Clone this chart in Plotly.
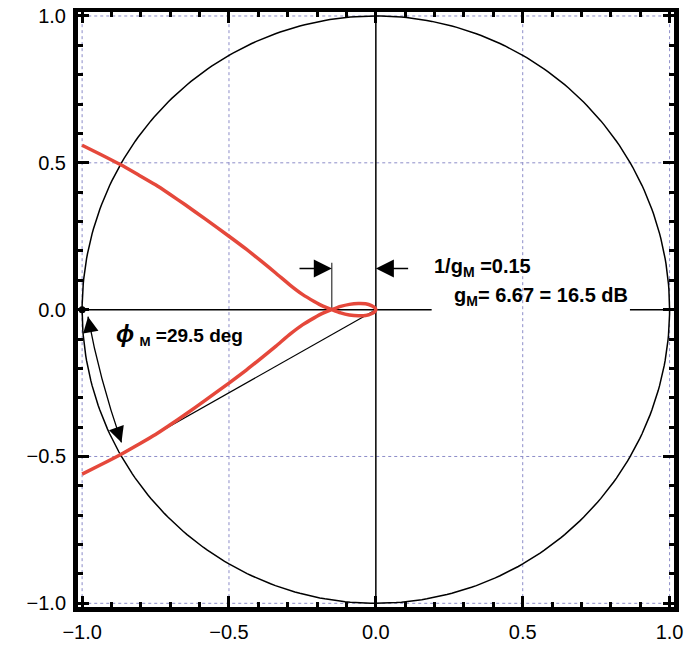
import math
import plotly.graph_objects as go

# Nyquist locus (one branch, the other is its complex conjugate)
re_branch = [-1.0, -0.94, -0.87, -0.81, -0.75, -0.70, -0.65, -0.58, -0.50, -0.44, -0.39,
             -0.34, -0.29, -0.25, -0.21, -0.18, -0.15, -0.12, -0.09, -0.06, -0.035,
             -0.015, -0.004, 0.0]
im_branch = [0.560, 0.530, 0.494, 0.460, 0.425, 0.392, 0.358, 0.308, 0.250, 0.205, 0.165,
             0.124, 0.082, 0.052, 0.028, 0.012, 0.0, -0.011, -0.018, -0.021, -0.020,
             -0.014, -0.007, 0.0]

inv_gain_margin = 0.15
phase_margin_deg = 29.5
tick_vals = [-1.0, -0.5, 0.0, 0.5, 1.0]
tick_text = ["\u22121.0", "\u22120.5", "0.0", "0.5", "1.0"]

RED = "#e5483b"
GRID = "#8c8cc8"
FONT = "Liberation Sans"

x_locus = re_branch + re_branch[::-1][1:]
y_locus = im_branch + [-v for v in im_branch[::-1]][1:]

theta = [2 * math.pi * i / 360 for i in range(361)]
circ_x = [math.cos(t) for t in theta]
circ_y = [math.sin(t) for t in theta]

pm = math.radians(180 + phase_margin_deg)
pm_x, pm_y = math.cos(pm), math.sin(pm)

fig = go.Figure()

# grid (dotted) at +-0.5 and +-1
for v in [-1.0, -0.5, 0.5, 1.0]:
    fig.add_shape(type="line", x0=v, x1=v, y0=-1.02, y1=1.02, xref="x", yref="y",
                  line=dict(color=GRID, width=1, dash="dot"), layer="below")
    fig.add_shape(type="line", y0=v, y1=v, x0=-1.02, x1=1.02, xref="x", yref="y",
                  line=dict(color=GRID, width=1, dash="dot"), layer="below")

# unit circle
fig.add_trace(go.Scatter(x=circ_x, y=circ_y, mode="lines",
                         line=dict(color="black", width=1.5), hoverinfo="skip"))
# axes lines
fig.add_trace(go.Scatter(x=[0, 0], y=[-1, 1], mode="lines",
                         line=dict(color="black", width=1.5), hoverinfo="skip"))
fig.add_trace(go.Scatter(x=[-1, 0.19], y=[0, 0], mode="lines",
                         line=dict(color="black", width=1.5), hoverinfo="skip"))
fig.add_trace(go.Scatter(x=[0.865, 1.0], y=[0, 0], mode="lines",
                         line=dict(color="black", width=1.5), hoverinfo="skip"))
# phase margin line
fig.add_trace(go.Scatter(x=[0, pm_x], y=[0, pm_y], mode="lines",
                         line=dict(color="black", width=1.2), hoverinfo="skip"))
# gain margin marker line
fig.add_trace(go.Scatter(x=[-inv_gain_margin, -inv_gain_margin], y=[0, 0.16], mode="lines",
                         line=dict(color="#333333", width=1.2), hoverinfo="skip"))
# locus
fig.add_trace(go.Scatter(x=x_locus, y=y_locus, mode="lines",
                         line=dict(color=RED, width=3.5, shape="spline", smoothing=0.6),
                         hoverinfo="skip"))
# critical point
fig.add_trace(go.Scatter(x=[-1], y=[0], mode="markers",
                         marker=dict(color="black", size=7), hoverinfo="skip"))

# phase-margin curved double arrow
p1 = (-0.98, -0.024)
p2 = (-0.866, -0.452)
ctrl = (-0.942, -0.232)
fig.add_shape(type="path",
              path=f"M {p1[0]},{p1[1]} Q {ctrl[0]},{ctrl[1]} {p2[0]},{p2[1]}",
              xref="x", yref="y", line=dict(color="black", width=1.3))


def head(tip, frm):
    dx, dy = tip[0] - frm[0], tip[1] - frm[1]
    n = math.hypot(dx, dy)
    tail = (tip[0] - 0.05 * dx / n, tip[1] - 0.05 * dy / n)
    fig.add_annotation(x=tip[0], y=tip[1], ax=tail[0], ay=tail[1], xref="x", yref="y",
                       axref="x", ayref="y", showarrow=True, arrowhead=2, arrowsize=2.4,
                       arrowwidth=1.3, arrowcolor="black", text="")


head(p1, ctrl)
head(p2, ctrl)

# gain margin arrows
fig.add_annotation(x=-inv_gain_margin, y=0.14, ax=-0.265, ay=0.14, xref="x", yref="y",
                   axref="x", ayref="y", showarrow=True, arrowhead=2, arrowsize=2.4,
                   arrowwidth=1.5, arrowcolor="black", text="")
fig.add_annotation(x=0.0, y=0.14, ax=0.115, ay=0.14, xref="x", yref="y",
                   axref="x", ayref="y", showarrow=True, arrowhead=2, arrowsize=2.4,
                   arrowwidth=1.5, arrowcolor="black", text="")

# texts
fig.add_annotation(x=0.19, y=0.143, xref="x", yref="y", xanchor="left", yanchor="middle",
                   showarrow=False, text="<b>1/g<sub>M</sub> =0.15</b>",
                   font=dict(family=FONT, size=20, color="black"))
fig.add_annotation(x=0.258, y=0.044, xref="x", yref="y", xanchor="left", yanchor="middle",
                   showarrow=False, text="<b>g<sub>M</sub>= 6.67 = 16.5 dB</b>",
                   font=dict(family=FONT, size=20, color="black"))
fig.add_annotation(x=-0.89, y=-0.085, xref="x", yref="y", xanchor="left", yanchor="middle",
                   showarrow=False,
                   text="<b><i><span style='font-size:24px'>\u03d5</span></i> <sub>M</sub> =29.5 deg</b>",
                   font=dict(family=FONT, size=19, color="black"))

axis_common = dict(
    tickvals=tick_vals, ticktext=tick_text, ticks="inside", ticklen=11, tickwidth=3,
    tickcolor="black", showline=True, linecolor="black", linewidth=5, mirror="allticks",
    showgrid=False, zeroline=False, automargin=False, ticklabelstandoff=3,
    ticklabeloverflow="allow",
    tickfont=dict(family=FONT, size=20, color="black"),
    minor=dict(ticks="inside", ticklen=5, tickwidth=3, tickcolor="black", dtick=0.1,
               showgrid=False),
)

# page body has an 8px margin, so the figure is sized to fit the window
fig.update_layout(
    width=687, height=640,
    margin=dict(l=70, r=21, t=4, b=41),
    paper_bgcolor="white", plot_bgcolor="white",
    showlegend=False,
    xaxis=dict(range=[-1.014, 1.015], **axis_common),
    yaxis=dict(range=[-1.0126, 1.0136], **axis_common),
)

fig.write_html("out.html")
